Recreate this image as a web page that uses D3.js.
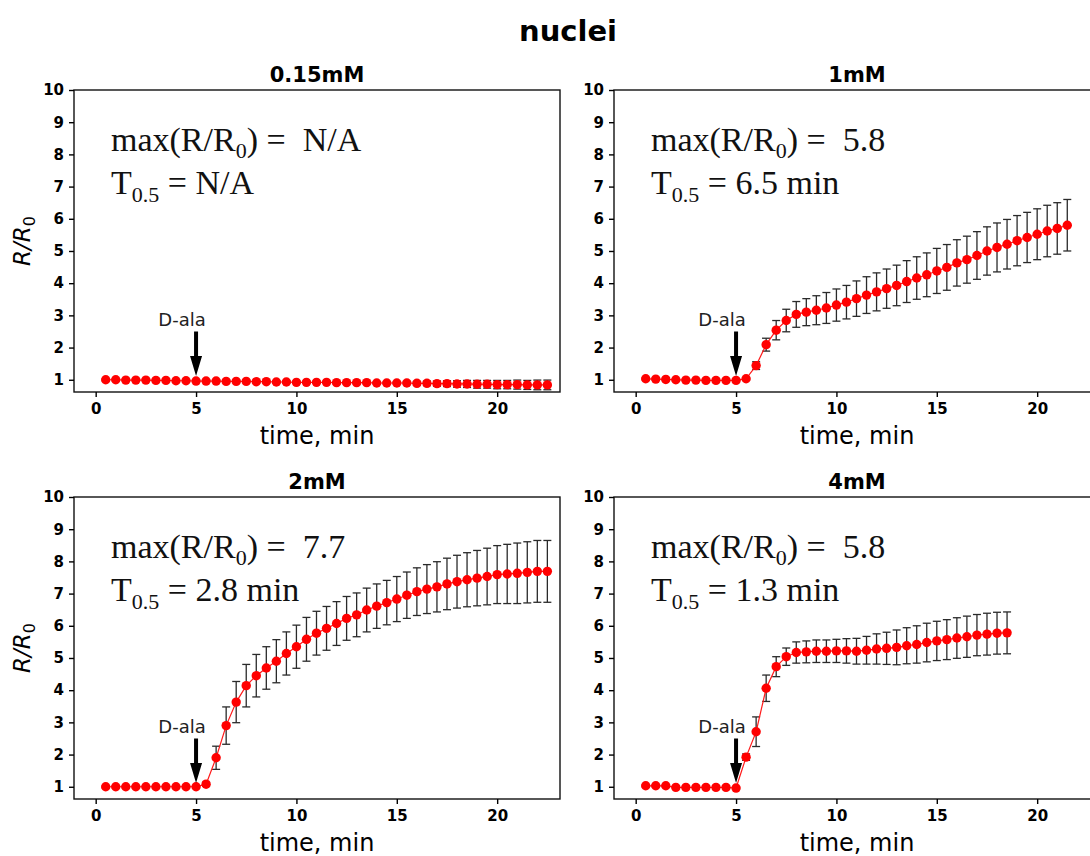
<!DOCTYPE html>
<html>
<head>
<meta charset="utf-8">
<script src="https://cdn.jsdelivr.net/npm/d3@7"></script>
<style>
  body { margin: 0; background: #fff; }
  svg { display: block; }
  .tick text { font-family: 'DejaVu Sans', sans-serif; font-weight: bold; font-size: 15px; fill: #000; }
  .tick line, .domain { stroke: #000; }
  .anno { font-family: 'Liberation Serif', 'Times New Roman', serif; font-size: 34px; fill: #111; white-space: pre; }
</style>
</head>
<body>
<svg id="chart" width="1090" height="856"></svg>
<script>
// time points, min (every panel starts at 0.5 and uses as many as it has values)
const TIME = [0.5, 1, 1.5, 2, 2.5, 3, 3.5, 4, 4.5, 5,
  5.5, 6, 6.5, 7, 7.5, 8, 8.5, 9, 9.5, 10,
  10.5, 11, 11.5, 12, 12.5, 13, 13.5, 14, 14.5, 15,
  15.5, 16, 16.5, 17, 17.5, 18, 18.5, 19, 19.5, 20,
  20.5, 21, 21.5, 22, 22.5]

const PANEL_TITLES = ['0.15mM', '1mM', '2mM', '4mM']
const MAX_LABELS = ['N/A', '5.8', '7.7', '5.8']
const THALF_LABELS = ['N/A', '6.5 min', '2.8 min', '1.3 min']
const Y_TICKS = [1, 2, 3, 4, 5, 6, 7, 8, 9, 10]
const X_TICKS = [0, 5, 10, 15, 20]
const DALA_TIME = 5

// 0.15 mM
const R_015 = [1.0, 1.0, 0.99, 0.99, 0.99, 0.98, 0.98, 0.97, 0.97, 0.96,
  0.96, 0.96, 0.95, 0.95, 0.95, 0.94, 0.94, 0.93, 0.93, 0.92,
  0.92, 0.92, 0.92, 0.91, 0.91, 0.91, 0.91, 0.90, 0.90, 0.90,
  0.90, 0.89, 0.89, 0.88, 0.88, 0.87, 0.87, 0.86, 0.86, 0.85,
  0.85, 0.85, 0.84, 0.84, 0.84]
const ERR_015 = [0.03, 0.03, 0.03, 0.03, 0.03, 0.03, 0.03, 0.03, 0.03, 0.03,
  0.03, 0.03, 0.03, 0.03, 0.03, 0.03, 0.03, 0.03, 0.03, 0.03,
  0.03, 0.03, 0.03, 0.03, 0.03, 0.03, 0.03, 0.03, 0.03, 0.03,
  0.05, 0.06, 0.07, 0.08, 0.09, 0.10, 0.11, 0.12, 0.12, 0.13,
  0.13, 0.14, 0.14, 0.15, 0.15]

// 1 mM
const R_1 = [1.03, 1.02, 1.01, 1.0, 0.99, 0.99, 0.98, 0.98, 0.98, 0.98,
  1.03, 1.44, 2.09, 2.54, 2.84, 3.03, 3.10, 3.16, 3.23, 3.32,
  3.41, 3.52, 3.63, 3.73, 3.83, 3.93, 4.05, 4.16, 4.26, 4.38,
  4.49, 4.63, 4.73, 4.86, 5.0, 5.11, 5.21, 5.32, 5.42, 5.52,
  5.62, 5.70, 5.80]
const ERR_1 = [0.03, 0.03, 0.03, 0.03, 0.03, 0.03, 0.03, 0.03, 0.03, 0.03,
  0.03, 0.12, 0.2, 0.3, 0.35, 0.4, 0.42, 0.45, 0.48, 0.5,
  0.52, 0.55, 0.57, 0.59, 0.61, 0.63, 0.65, 0.66, 0.68, 0.7,
  0.71, 0.72, 0.73, 0.74, 0.75, 0.76, 0.77, 0.78, 0.78, 0.79,
  0.8, 0.8, 0.8]

// 2 mM
const R_2 = [1.0, 1.0, 1.0, 1.0, 1.0, 1.0, 1.0, 1.0, 1.0, 1.0,
  1.08, 1.9, 2.9, 3.63, 4.14, 4.45, 4.69, 4.9, 5.14, 5.35,
  5.58, 5.77, 5.92, 6.07, 6.23, 6.34, 6.49, 6.61, 6.72, 6.83,
  6.95, 7.06, 7.14, 7.21, 7.3, 7.37, 7.43, 7.48, 7.53, 7.59,
  7.61, 7.63, 7.66, 7.69, 7.69]
const ERR_2 = [0.03, 0.03, 0.03, 0.03, 0.03, 0.03, 0.03, 0.03, 0.03, 0.03,
  0.06, 0.36, 0.58, 0.64, 0.66, 0.66, 0.66, 0.67, 0.67, 0.67,
  0.68, 0.68, 0.68, 0.68, 0.68, 0.68, 0.68, 0.69, 0.69, 0.7,
  0.72, 0.74, 0.76, 0.78, 0.8, 0.82, 0.84, 0.86, 0.88, 0.9,
  0.92, 0.94, 0.95, 0.96, 0.96]

// 4 mM
const R_4 = [1.03, 1.03, 1.03, 0.98, 0.98, 0.98, 0.98, 0.98, 0.98, 0.96,
  1.92, 2.71, 4.06, 4.73, 5.04, 5.17, 5.19, 5.21, 5.21, 5.22,
  5.22, 5.21, 5.24, 5.28, 5.3, 5.33, 5.38, 5.42, 5.48, 5.53,
  5.57, 5.62, 5.66, 5.71, 5.74, 5.77, 5.78]
const ERR_4 = [0.03, 0.03, 0.03, 0.03, 0.03, 0.03, 0.03, 0.03, 0.03, 0.03,
  0.1, 0.46, 0.41, 0.31, 0.27, 0.33, 0.34, 0.35, 0.35, 0.36,
  0.38, 0.4, 0.43, 0.47, 0.5, 0.54, 0.56, 0.58, 0.6, 0.61,
  0.62, 0.63, 0.64, 0.64, 0.65, 0.65, 0.65]

const SERIES = [[R_015, ERR_015], [R_1, ERR_1], [R_2, ERR_2], [R_4, ERR_4]]

const svg = d3.select('#chart')
const panelW = 486
const panelH = 302
const origins = [[74, 90], [614, 90], [74, 497], [614, 497]]

svg.append('text')
  .attr('x', 568)
  .attr('y', 41)
  .attr('text-anchor', 'middle')
  .style('font-family', 'DejaVu Sans, sans-serif')
  .style('font-weight', 'bold')
  .style('font-size', '29px')
  .text('nuclei')

const x = d3.scaleLinear().domain([-1.08, 23.13]).range([0, panelW])
const y = d3.scaleLinear().domain([0.62, 10]).range([panelH, 0])

function drawPanel(idx) {
  const [ox, oy] = origins[idx]
  const [vals, errs] = SERIES[idx]
  const data = vals.map((v, i) => ({t: TIME[i], v: v, e: errs[i]}))
  const g = svg.append('g').attr('transform', `translate(${ox}, ${oy})`)

  // frame
  g.append('rect')
    .attr('width', panelW).attr('height', panelH)
    .attr('fill', 'none').attr('stroke', '#111').attr('stroke-width', 1.4)

  g.append('g')
    .attr('transform', `translate(0, ${panelH})`)
    .call(d3.axisBottom(x).tickValues(X_TICKS).tickSize(5).tickPadding(6))
    .call((a) => a.select('.domain').remove())
    .selectAll('line').attr('stroke-width', 1.4)

  g.append('g')
    .call(d3.axisLeft(y).tickValues(Y_TICKS).tickSize(5).tickPadding(5))
    .call((a) => a.select('.domain').remove())
    .selectAll('line').attr('stroke-width', 1.4)

  g.append('text')
    .attr('x', panelW / 2)
    .attr('y', -8)
    .attr('text-anchor', 'middle')
    .style('font-family', 'DejaVu Sans, sans-serif')
    .style('font-weight', 'bold')
    .style('font-size', '21px')
    .text(PANEL_TITLES[idx])

  g.append('text')
    .attr('x', panelW / 2)
    .attr('y', panelH + 52)
    .attr('text-anchor', 'middle')
    .style('font-family', 'DejaVu Sans, sans-serif')
    .style('font-size', '24px')
    .text('time, min')

  if (idx % 2 === 0) {
    const yl = g.append('text')
      .attr('transform', `translate(-44, ${panelH / 2}) rotate(-90)`)
      .attr('text-anchor', 'middle')
      .style('font-family', 'DejaVu Sans, sans-serif')
      .style('font-style', 'italic')
      .style('font-size', '23px')
    yl.append('tspan').text('R/R')
    yl.append('tspan').attr('dy', 5).style('font-size', '16px').style('font-style', 'normal').text('0')
  }

  const plot = g.append('g')

  // error bars
  const eb = plot.append('g').attr('stroke', '#2a2a2a').attr('stroke-width', 1.3)
  data.forEach((d) => {
    const cx = x(d.t)
    eb.append('line').attr('x1', cx).attr('x2', cx).attr('y1', y(d.v - d.e)).attr('y2', y(d.v + d.e))
    eb.append('line').attr('x1', cx - 4).attr('x2', cx + 4).attr('y1', y(d.v - d.e)).attr('y2', y(d.v - d.e))
    eb.append('line').attr('x1', cx - 4).attr('x2', cx + 4).attr('y1', y(d.v + d.e)).attr('y2', y(d.v + d.e))
  })

  plot.append('path')
    .datum(data)
    .attr('fill', 'none')
    .attr('stroke', '#ff1a1a')
    .attr('stroke-width', 1.2)
    .attr('d', d3.line().x((d) => x(d.t)).y((d) => y(d.v)))

  plot.selectAll('circle')
    .data(data)
    .enter()
    .append('circle')
    .attr('cx', (d) => x(d.t))
    .attr('cy', (d) => y(d.v))
    .attr('r', 4.7)
    .attr('fill', '#ff0000')

  // D-ala arrow
  const ax = x(DALA_TIME)
  const aTop = y(2.5)
  const aTip = y(1.12)
  const headLen = 20
  plot.append('path')
    .attr('fill', '#000')
    .attr('d', `M${ax - 2},${aTop} L${ax + 2},${aTop} L${ax + 2},${aTip - headLen} L${ax + 6},${aTip - headLen} L${ax},${aTip} L${ax - 6},${aTip - headLen} L${ax - 2},${aTip - headLen} Z`)
  plot.append('text')
    .attr('x', x(4.3))
    .attr('y', y(2.68))
    .attr('text-anchor', 'middle')
    .style('font-family', 'DejaVu Sans, sans-serif')
    .style('font-size', '18px')
    .attr('fill', '#222')
    .text('D-ala')

  // annotation
  const l1 = g.append('text').attr('class', 'anno').attr('x', 37).attr('y', 61)
  l1.append('tspan').text('max(R/R')
  l1.append('tspan').attr('dy', 7).style('font-size', '22px').text('0')
  l1.append('tspan').attr('dy', -7).text(')' + ' =  ' + MAX_LABELS[idx])

  const l2 = g.append('text').attr('class', 'anno').attr('x', 37).attr('y', 104)
  l2.append('tspan').text('T')
  l2.append('tspan').attr('dy', 8).style('font-size', '22px').text('0.5')
  l2.append('tspan').attr('dy', -8).text(' = ' + THALF_LABELS[idx])
}

for (let i = 0; i < 4; i++) drawPanel(i)
</script>
</body>
</html>
